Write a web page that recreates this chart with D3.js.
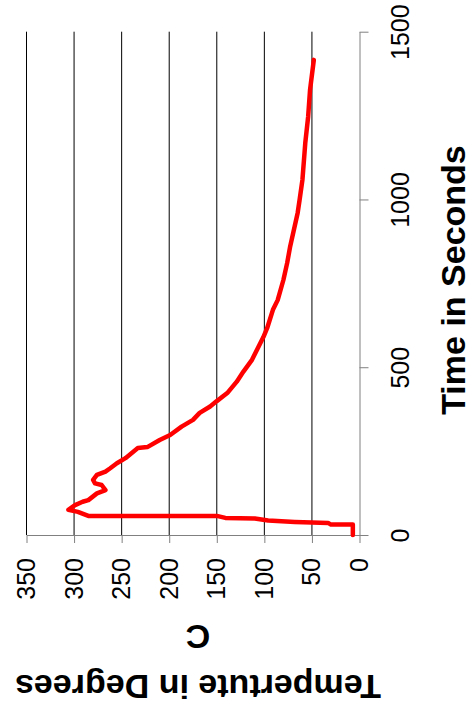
<!DOCTYPE html>
<html>
<head>
<meta charset="utf-8">
<script src="https://cdn.jsdelivr.net/npm/d3@7"></script>
<style>
  html, body { margin: 0; padding: 0; background: #fff; }
  svg { display: block; font-family: "Liberation Sans", Arial, sans-serif; }
</style>
</head>
<body>
<svg id="chart" width="472" height="711"></svg>
<script>
// Cooling run: time in seconds and temperature in degrees C
const timeSeconds = [
  0, 31, 31, 36, 37, 39, 43, 49, 51, 57, 57, 57, 69, 75, 89, 99, 104, 124, 134,
  149, 154, 164, 179, 189, 199, 214, 229, 259, 262, 283, 298, 323, 343, 364, 383,
  399, 423, 457, 487, 522, 590, 617, 671, 700, 760, 811, 858, 960, 998, 1058, 1168,
  1246, 1326, 1416
];
const temperatureC = [
  7, 7, 30, 33, 50, 68, 96, 110, 141, 150, 246, 285, 296, 306, 299, 291, 285, 276, 267,
  271, 278, 280, 276, 267, 262, 255, 246, 233, 223, 210, 199, 187, 175, 168, 157,
  150, 139, 129, 122, 113, 101, 97, 91, 86, 80, 76, 73, 65, 63, 60, 57,
  54, 52, 48
];
const timeTicks = [0, 500, 1000, 1500];
const tempTicks = [0, 50, 100, 150, 200, 250, 300, 350];

const timeTitle = "Time in Seconds";
const tempTitleLines = ["C", "Tempertute in Degrees"];

const svg = d3.select("#chart");
const fontFamily = "'Liberation Sans', Arial, sans-serif";

// The plot is laid out turned on its side: time runs up, temperature runs right-to-left.
const x = d3.scaleLinear().domain([0, 350]).range([359.5, 26.5]);
const y = d3.scaleLinear().domain([0, 1500]).range([535, 31.7]);

// Grid lines at each temperature tick
svg.append("g")
  .selectAll("line")
  .data(tempTicks.filter(d => d > 0))
  .join("line")
  .attr("x1", d => x(d)).attr("x2", d => x(d))
  .attr("y1", y(1500)).attr("y2", y(0))
  .attr("stroke", "#000")
  .attr("stroke-width", 1);

// Temperature axis along the bottom
const tempAxis = svg.append("g")
  .attr("transform", `translate(0,${y(0)})`)
  .call(d3.axisBottom(x).tickValues(tempTicks).tickFormat(d3.format("d"))
    .tickSize(8).tickSizeOuter(0));
tempAxis.select(".domain").attr("stroke", "#808080");
tempAxis.selectAll(".tick line").attr("stroke", "#808080");
tempAxis.selectAll(".tick text")
  .attr("x", null).attr("y", null).attr("dy", null)
  .attr("transform", "translate(8,23) rotate(-90)")
  .attr("text-anchor", "end")
  .attr("font-size", 25)
  .attr("font-family", fontFamily)
  .attr("fill", "#000");

// Time axis along the right
const timeAxis = svg.append("g")
  .attr("transform", `translate(${x(0)},0)`)
  .call(d3.axisRight(y).tickValues(timeTicks).tickFormat(d3.format("d"))
    .tickSize(9).tickSizeOuter(0));
timeAxis.select(".domain").attr("stroke", "#808080");
timeAxis.selectAll(".tick line").attr("stroke", "#808080");
timeAxis.selectAll(".tick text")
  .attr("x", null).attr("y", null).attr("dy", null)
  .attr("transform", "translate(49,0) rotate(-90)")
  .attr("text-anchor", "middle")
  .attr("font-size", 25)
  .attr("font-family", fontFamily)
  .attr("fill", "#000");

// Temperature trace
const points = timeSeconds.map((t, i) => [t, temperatureC[i]]);
svg.append("path")
  .datum(points)
  .attr("fill", "none")
  .attr("stroke", "#ff0000")
  .attr("stroke-width", 4.5)
  .attr("stroke-linejoin", "round")
  .attr("stroke-linecap", "round")
  .attr("d", d3.line().x(d => x(d[1])).y(d => y(d[0])));

// Axis titles
svg.append("text")
  .attr("transform", "translate(465,280) rotate(-90)")
  .attr("text-anchor", "middle")
  .attr("font-size", 34)
  .attr("font-weight", "bold")
  .text(timeTitle);

svg.append("g")
  .selectAll("text")
  .data(tempTitleLines)
  .join("text")
  .attr("transform", (d, i) => `translate(198,${625 + i * 50}) rotate(180)`)
  .attr("text-anchor", "middle")
  .attr("font-size", 34)
  .attr("font-weight", "bold")
  .text(d => d);
</script>
</body>
</html>
